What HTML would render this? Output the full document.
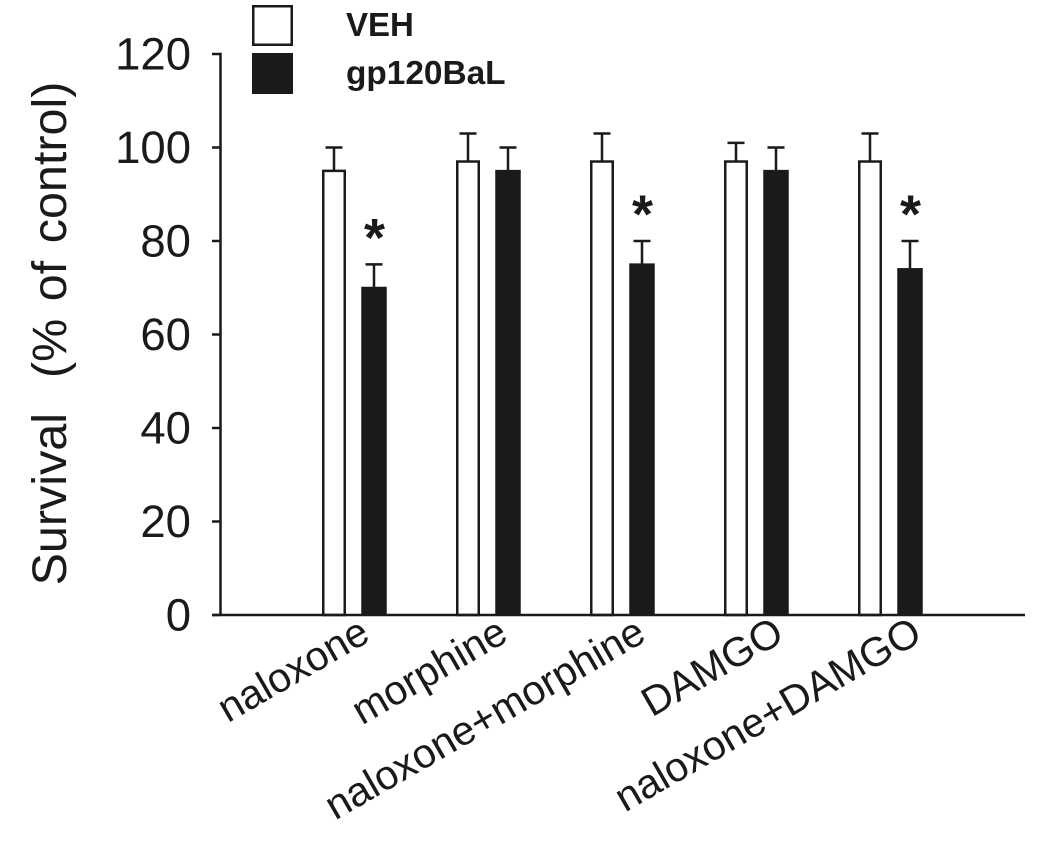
<!DOCTYPE html>
<html lang="en">
<head>
<meta charset="utf-8">
<title>Survival chart</title>
<style>
html,body{margin:0;padding:0;background:#fff;width:1050px;height:846px;overflow:hidden}
svg{display:block}
text{font-family:"Liberation Sans",Arial,sans-serif;fill:#1a1a1a;white-space:pre}
</style>
</head>
<body>
<svg id="chart" width="1050" height="846" viewBox="0 0 1050 846" xmlns="http://www.w3.org/2000/svg">
  <rect x="253.25" y="6.25" width="38.5" height="38.5" fill="#fff" stroke="#1a1a1a" stroke-width="2.5"/>
  <rect x="252" y="53" width="41" height="41" fill="#1a1a1a"/>
  <text x="346" y="36" font-size="33" font-weight="bold">VEH</text>
  <text x="346" y="84" font-size="33.4" font-weight="bold">gp120BaL</text>
  <text transform="translate(66,333.5) rotate(-90)" text-anchor="middle" font-size="48.5" word-spacing="4">Survival  (% of control)</text>
</svg>
<script>
const categories = ['naloxone', 'morphine', 'naloxone+morphine', 'DAMGO', 'naloxone+DAMGO'];
const vehValues = [95, 97, 97, 97, 97];
const vehErrors = [5, 6, 6, 4, 6];
const gp120Values = [70, 95, 75, 95, 74];
const gp120Errors = [5, 5, 5, 5, 6];
const significant = [true, false, true, false, true];
const yTicks = [0, 20, 40, 60, 80, 100, 120];

const NS = 'http://www.w3.org/2000/svg';
const svg = document.getElementById('chart');
const INK = '#1a1a1a';
const y = v => 615 - v * 4.675;
const groupX = i => 354 + 134 * i;
const labelX = i => 372 + 138 * i;

function make(tag, attrs) {
  const el = document.createElementNS(NS, tag);
  for (const k in attrs) el.setAttribute(k, attrs[k]);
  svg.appendChild(el);
  return el;
}
function line(x1, y1, x2, y2) {
  return make('line', { x1, y1, x2, y2, stroke: INK, 'stroke-width': 2.5 });
}

categories.forEach((name, i) => {
  const slug = name.toLowerCase().replace('+', '-plus-');
  const wx = groupX(i) - 20;
  const bx = groupX(i) + 20;

  const vehStem = line(wx, y(vehValues[i]), wx, y(vehValues[i] + vehErrors[i]));
  
  
  const vehCap = line(wx - 8.5, y(vehValues[i] + vehErrors[i]), wx + 8.5, y(vehValues[i] + vehErrors[i]));
  
  
  const vehBar = make('rect', { x: wx - 10.75, y: y(vehValues[i]), width: 21.5, height: y(0) - y(vehValues[i]), fill: '#fff', stroke: INK, 'stroke-width': 2.5 });
  
  

  const gpStem = line(bx, y(gp120Values[i]), bx, y(gp120Values[i] + gp120Errors[i]));
  
  
  const gpCap = line(bx - 8.5, y(gp120Values[i] + gp120Errors[i]), bx + 8.5, y(gp120Values[i] + gp120Errors[i]));
  
  
  const gpBar = make('rect', { x: bx - 12.75, y: y(gp120Values[i]) - 1, width: 25.5, height: y(0) - y(gp120Values[i]) + 1, fill: INK });
  
  

  if (significant[i]) {
    const star = make('text', { x: bx + 0.5, y: y(gp120Values[i] + gp120Errors[i]) - 8.5, 'text-anchor': 'middle', 'font-size': 54, 'font-weight': 'bold' });
    star.textContent = '*';
    
    
  }

  const label = make('text', { transform: 'translate(' + labelX(i) + ',640) rotate(-30)', 'text-anchor': 'end', 'font-size': 41 });
  label.textContent = name;
  
  
});

const yAxis = line(220.5, y(120) - 1.25, 220.5, y(0));


const xAxis = line(212, y(0), 1025, y(0));



yTicks.forEach(t => {
  const tick = line(212, y(t), 220.5, y(t));
  
  
  const lab = make('text', { x: 191, y: y(t) + 15.5, 'text-anchor': 'end', 'font-size': 45.5 });
  lab.textContent = t;
  
  
});
</script>
</body>
</html>
